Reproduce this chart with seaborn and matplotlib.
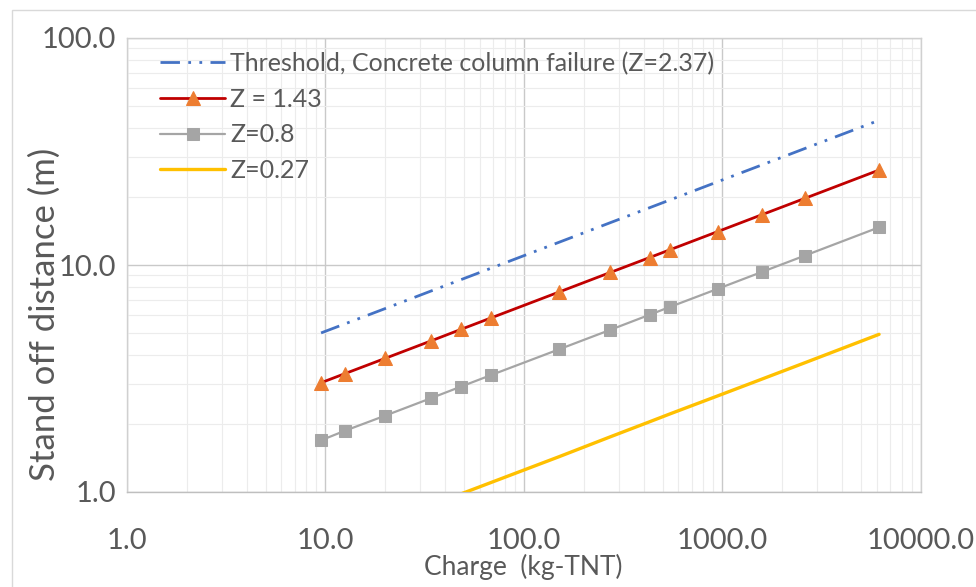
import matplotlib
matplotlib.use("Agg")
import matplotlib.pyplot as plt
import matplotlib.patches as mpatches
from matplotlib.ticker import FixedLocator, FixedFormatter, LogLocator, NullFormatter
import seaborn as sns
import pandas as pd

# ---------------- data ----------------
charge = [9.5, 12.5, 20, 34, 48, 68, 150, 272, 430, 545, 945, 1575, 2600, 6150]
threshold_237 = [5.02, 5.50, 6.43, 7.68, 8.61, 9.67, 12.59, 15.36, 17.89, 19.36, 23.26, 27.57, 32.6, 43.4]
z_143 = [3.03, 3.32, 3.88, 4.63, 5.20, 5.84, 7.60, 9.27, 10.79, 11.68, 14.03, 16.64, 19.66, 26.2]
z_08 = [1.69, 1.86, 2.17, 2.59, 2.91, 3.27, 4.25, 5.18, 6.04, 6.54, 7.85, 9.31, 11.0, 14.66]
z_027 = [0.57, 0.63, 0.73, 0.87, 0.98, 1.10, 1.43, 1.75, 2.04, 2.21, 2.65, 3.14, 3.71, 4.95]

series_labels = ["Threshold, Concrete column failure (Z=2.37)", "Z = 1.43", "Z=0.8", "Z=0.27"]
x_ticks = [1, 10, 100, 1000, 10000]
x_tick_labels = ["1.0", "10.0", "100.0", "1000.0", "10000.0"]
y_ticks = [1, 10, 100]
y_tick_labels = ["1.0", "10.0", "100.0"]
x_title = "Charge  (kg-TNT)"
y_title = "Stand off distance (m)"

# ---------------- style ----------------
sns.set_style("white")
plt.rcParams["font.family"] = ["Lato", "DejaVu Sans"]
TXT = "#595959"

fig = plt.figure(figsize=(9.76, 5.87), dpi=100)
ax = fig.add_axes([127 / 976, 1 - 492 / 587, 794 / 976, 454 / 587])

df = pd.DataFrame({"charge": charge, "thr": threshold_237, "z143": z_143, "z08": z_08, "z027": z_027})

sns.lineplot(data=df, x="charge", y="thr", ax=ax, color="#4472C4", lw=2.0,
             label=series_labels[0], zorder=3)
ax.lines[-1].set_dashes((7, 3, 1, 3, 1, 3))
sns.lineplot(data=df, x="charge", y="z143", ax=ax, color="#C00000", lw=2.0,
             marker="^", markersize=10, markerfacecolor="#ED7D31", markeredgecolor="#ED7D31",
             label=series_labels[1], zorder=4)
sns.lineplot(data=df, x="charge", y="z08", ax=ax, color="#A5A5A5", lw=1.6,
             marker="s", markersize=9, markerfacecolor="#A5A5A5", markeredgecolor="#A5A5A5",
             label=series_labels[2], zorder=4)
sns.lineplot(data=df, x="charge", y="z027", ax=ax, color="#FFC000", lw=2.4,
             label=series_labels[3], zorder=3)

ax.set_xscale("log")
ax.set_yscale("log")
ax.set_xlim(1, 10000)
ax.set_ylim(1, 100)

ax.xaxis.set_major_locator(FixedLocator(x_ticks))
ax.xaxis.set_major_formatter(FixedFormatter(x_tick_labels))
ax.yaxis.set_major_locator(FixedLocator(y_ticks))
ax.yaxis.set_major_formatter(FixedFormatter(y_tick_labels))
ax.xaxis.set_minor_locator(LogLocator(base=10, subs=range(2, 10)))
ax.yaxis.set_minor_locator(LogLocator(base=10, subs=range(2, 10)))
ax.xaxis.set_minor_formatter(NullFormatter())
ax.yaxis.set_minor_formatter(NullFormatter())

ax.grid(True, which="major", color="#C9C9C9", lw=1.0, zorder=0)
ax.grid(True, which="minor", color="#ECECEC", lw=0.8, zorder=0)
ax.set_axisbelow(True)

ax.tick_params(axis="both", which="both", length=0, colors=TXT, labelsize=21)
ax.tick_params(axis="x", pad=26)
ax.tick_params(axis="y", pad=8)

for s in ax.spines.values():
    s.set_color("#D0D0D0")
    s.set_linewidth(1.0)
ax.spines["bottom"].set_color("#BFBFBF")

ax.set_xlabel(x_title, fontsize=19, color=TXT, va="center")
ax.xaxis.set_label_coords(0.499, -0.165)
ax.set_ylabel(y_title, fontsize=25, color=TXT, va="center")
ax.yaxis.set_label_coords(-0.103, 0.392)

leg = ax.legend(loc="upper left", bbox_to_anchor=(0.029, 0.992), frameon=False,
                fontsize=18, handlelength=2.6, handletextpad=0.2, labelspacing=0.51,
                borderaxespad=0.0)
for t in leg.get_texts():
    t.set_color(TXT)

# outer chart-area border
fig.patches.append(mpatches.Rectangle((12 / 976, -0.01), 1.02, 1 - 10 / 587 + 0.01,
                                      transform=fig.transFigure, fill=False,
                                      edgecolor="#D9D9D9", lw=1.0))

fig.savefig("out.png", dpi=100)
